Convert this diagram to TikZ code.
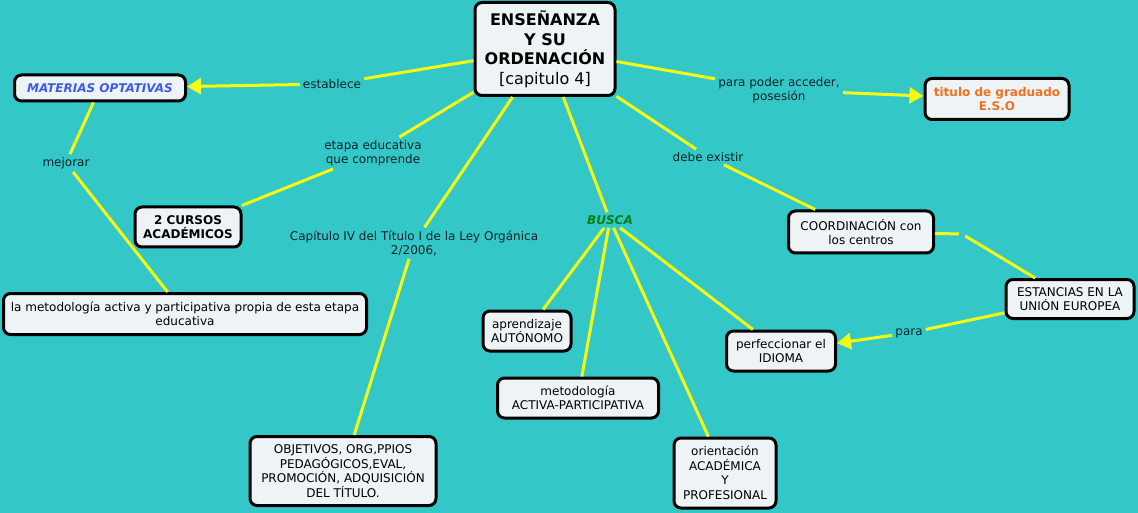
\documentclass[tikz,border=0pt]{standalone}
\usepackage{fontspec}
\setmainfont{DejaVu Sans}
\usepackage{xcolor}
\usetikzlibrary{arrows.meta, positioning}

\definecolor{fondo}{RGB}{51,199,199}
\definecolor{caja}{RGB}{238,243,246}
\definecolor{enlace}{RGB}{245,250,20}
\definecolor{azul}{RGB}{60,90,235}
\definecolor{naranja}{RGB}{240,112,32}
\definecolor{verde}{RGB}{0,128,20}
\definecolor{tinta}{RGB}{15,35,40}

\begin{document}
\begin{tikzpicture}[x=1pt, y=-1pt,
    concept/.style={draw=black, line width=3pt, fill=caja, rounded corners=7pt,
        align=center, inner sep=2pt, font=\fontsize{12}{14.5}\selectfont},
    linktext/.style={align=center, inner sep=3pt, text=tinta,
        font=\fontsize{12}{14}\selectfont},
    link/.style={draw=enlace, line width=3pt},
    linkarrow/.style={link, -{Triangle[length=14pt, width=16pt]}}]

    % fondo
    \fill[fondo] (0,0) rectangle (1138,513);
    \useasboundingbox (0,0) rectangle (1138,513);

    % tema central
    \node[concept, minimum width=140pt, minimum height=93pt,
        font=\fontsize{16}{19.5}\selectfont] (ensenanza) at (545,49)
        {\textbf{ENSEÑANZA}\\ \textbf{Y SU}\\ \textbf{ORDENACIÓN}\\ {[capitulo 4]}};

    % conceptos
    \node[concept, minimum width=171pt, minimum height=26pt, text=azul,
        font=\fontsize{12}{14.5}\selectfont\bfseries\itshape] (optativas) at (100,88) {MATERIAS OPTATIVAS};
    \node[concept, minimum width=144pt, minimum height=41pt, text=naranja,
        font=\fontsize{12}{14.5}\selectfont\bfseries] (graduado) at (997,99) {titulo de graduado\\E.S.O};
    \node[concept, minimum width=106pt, minimum height=40pt,
        font=\fontsize{12}{14.5}\selectfont\bfseries] (cursos) at (188,227) {2 CURSOS\\ACADÉMICOS};
    \node[concept, minimum width=363pt, minimum height=41pt] (metodo) at (185,314)
        {la metodología activa y participativa propia de esta etapa\\educativa};
    \node[concept, minimum width=145pt, minimum height=42pt] (coord) at (861,232) {COORDINACIÓN con\\los centros};
    \node[concept, minimum width=128pt, minimum height=39pt] (estancias) at (1070,299) {ESTANCIAS EN LA\\UNIÓN EUROPEA};
    \node[concept, minimum width=109pt, minimum height=40pt] (idioma) at (781,351) {perfeccionar el\\IDIOMA};
    \node[concept, minimum width=88pt, minimum height=40pt] (autonomo) at (527,331) {aprendizaje\\AUTÓNOMO};
    \node[concept, minimum width=161pt, minimum height=40pt] (activa) at (578,398) {metodología\\ACTIVA-PARTICIPATIVA};
    \node[concept, minimum width=102pt, minimum height=70pt] (orienta) at (725,473) {orientación\\ACADÉMICA\\Y\\PROFESIONAL};
    \node[concept, minimum width=186pt, minimum height=69pt] (objetivos) at (343,471)
        {OBJETIVOS, ORG,PPIOS\\PEDAGÓGICOS,EVAL,\\PROMOCIÓN, ADQUISICIÓN\\DEL TÍTULO.};

    % frases de enlace
    \node[linktext] (establece) at (332,84) {establece};
    \node[linktext] (acceder) at (779,90) {para poder acceder,\\posesión};
    \node[linktext] (mejorar) at (66,163) {mejorar};
    \node[linktext] (etapa) at (373,153) {etapa educativa\\que comprende};
    \node[linktext] (existir) at (708,157) {debe existir};
    \node[linktext] (capitulo) at (414,243) {Capítulo IV del Título I de la Ley Orgánica\\2/2006,};
    \node[linktext, text=verde, font=\fontsize{12}{14}\selectfont\bfseries\itshape] (busca) at (610,220) {BUSCA};
    \node[linktext] (para) at (909,333) {para};
    \node[inner sep=3pt] (hueco) at (962,234) {};

    % conexiones
    \draw[link] (ensenanza) -- (establece);
    \draw[linkarrow] (establece) -- (optativas);
    \draw[link] (ensenanza) -- (acceder);
    \draw[linkarrow] (acceder) -- (graduado);
    \draw[link] (optativas) -- (mejorar);
    \draw[link] (mejorar) -- (metodo);
    \draw[link] (ensenanza) -- (etapa);
    \draw[link] (etapa) -- (cursos);
    \draw[link] (ensenanza) -- (capitulo);
    \draw[link] (capitulo) -- (objetivos);
    \draw[link] (ensenanza) -- (busca);
    \draw[link] (busca) -- (autonomo);
    \draw[link] (busca) -- (activa);
    \draw[link] (busca) -- (orienta);
    \draw[link] (busca) -- (idioma);
    \draw[link] (ensenanza) -- (existir);
    \draw[link] (existir) -- (coord);
    \draw[link] (coord) -- (hueco);
    \draw[link] (hueco) -- (estancias);
    \draw[link] (estancias) -- (para);
    \draw[linkarrow] (para) -- (idioma);
\end{tikzpicture}
\end{document}
